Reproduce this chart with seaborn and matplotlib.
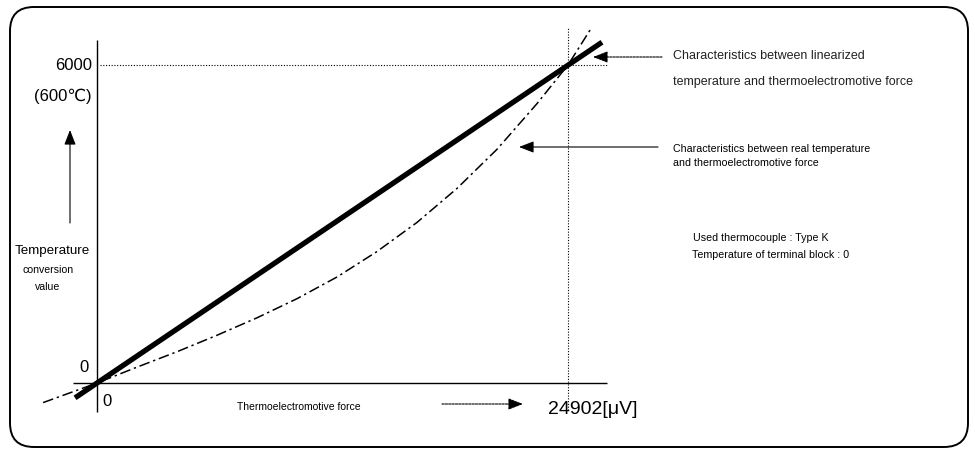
import matplotlib
matplotlib.use("Agg")
import matplotlib.pyplot as plt
from matplotlib import font_manager
from matplotlib.patches import FancyBboxPatch
import seaborn as sns
import pandas as pd

# ---------------- data ----------------
lin_emf = [-1160, 26700]            # linearized characteristic [uV]
lin_temp = [-280, 6430]             # temperature conversion value
real_emf = [-2850, 0, 2120, 4230, 6340, 8460, 10570, 12690, 14800, 16920, 19030,
            21150, 23260, 24902, 26070]
real_temp = [-370, 0, 300, 590, 900, 1230, 1590, 2000, 2480, 3030, 3670,
             4410, 5270, 6000, 6660]
full_emf = 24902
full_temp = 6000

sns.set_style("white")
names = {f.name for f in font_manager.fontManager.ttflist}
main_font = "Liberation Sans Narrow" if "Liberation Sans Narrow" in names else "Liberation Sans"
plt.rcParams["font.family"] = [main_font, "DejaVu Sans"]

W, H = 975, 451
fig = plt.figure(figsize=(W / 100, H / 100), dpi=100)

# main data axes spanning the whole figure
ax = fig.add_axes([0, 0, 1, 1])
upx = full_emf / 471.0      # uV per pixel
upy = full_temp / 318.0     # temp per pixel
x0 = -97 * upx
y0 = -(451 - 383) * upy
ax.set_xlim(x0, x0 + W * upx)
ax.set_ylim(y0, y0 + H * upy)

df_lin = pd.DataFrame({"emf": lin_emf, "temp": lin_temp})
df_real = pd.DataFrame({"emf": real_emf, "temp": real_temp})

# axes lines
ax.plot([-24 * upx, 510 * upx], [0, 0], color="black", lw=1.0, solid_capstyle="butt")
ax.plot([0, 0], [-29 * upy, 343 * upy], color="black", lw=1.0, solid_capstyle="butt")
# dotted guides
ax.plot([3 * upx, 510 * upx], [full_temp, full_temp], color="black", lw=0.8, linestyle=(0, (1, 1.5)))
ax.plot([full_emf, full_emf], [(383 - 410) * upy, (383 - 28) * upy], color="black", lw=0.8,
        linestyle=(0, (1, 1.5)))

sns.lineplot(data=df_real, x="emf", y="temp", ax=ax, color="black", lw=1.1,
             linestyle=(0, (7, 2.5, 1.5, 2.5)), sort=False)
sns.lineplot(data=df_lin, x="emf", y="temp", ax=ax, color="black", lw=3.8,
             solid_capstyle="butt", sort=False)
ax.set_xlim(x0, x0 + W * upx)
ax.set_ylim(y0, y0 + H * upy)
ax.axis("off")


def P(px, py):
    return (px / W, 1 - py / H)


# border
ov = fig.add_axes([0, 0, 1, 1], facecolor="none")
ov.set_xlim(0, W)
ov.set_ylim(H, 0)
ov.axis("off")
ov.add_patch(FancyBboxPatch((10, 7), 958, 440, boxstyle="round,pad=0,rounding_size=24",
                            fill=False, ec="black", lw=1.4))

txt = dict(color="black", va="center")
fig.text(*P(92, 66), "6000", ha="right", fontsize=12, **txt)
fig.text(*P(92, 96), "(600℃)", ha="right", fontsize=12,
         family=[main_font, "DejaVu Sans"], **txt)
fig.text(*P(52, 251), "Temperature", ha="center", fontsize=9.6, **txt)
fig.text(*P(48, 270), "conversion", ha="center", fontsize=7.6, **txt)
fig.text(*P(48, 287), "value", ha="center", fontsize=7.6, **txt)
fig.text(*P(89, 368), "0", ha="right", fontsize=12, **txt)
fig.text(*P(102, 401), "0", ha="left", fontsize=12, **txt)
fig.text(*P(237, 407), "Thermoelectromotive force", ha="left", fontsize=7.5, **txt)
fig.text(*P(548, 409), "24902[μV]", ha="left", fontsize=14, **txt)

fig.text(*P(673, 56), "Characteristics between linearized", ha="left", fontsize=9, color="#222", va="center")
fig.text(*P(673, 82), "temperature and thermoelectromotive force", ha="left", fontsize=9, color="#222",
         va="center")
fig.text(*P(673, 149), "Characteristics between real temperature", ha="left", fontsize=7.7, **txt)
fig.text(*P(673, 163), "and thermoelectromotive force", ha="left", fontsize=7.7, **txt)
fig.text(*P(693, 238), "Used thermocouple : Type K", ha="left", fontsize=7.7, **txt)
fig.text(*P(692, 255), "Temperature of terminal block : 0", ha="left", fontsize=7.7, **txt)

arrow = dict(arrowstyle="-|>,head_length=0.9,head_width=0.35", color="black", lw=0.8,
             shrinkA=0, shrinkB=0)
for (xs, ys), (xe, ye), ls in [((662, 57), (593, 57), (0, (2, 1))),
                              ((658, 147), (519, 147), "-"),
                              ((70, 223), (70, 130), "-"),
                              ((442, 404), (523, 404), (0, (2, 1)))]:
    ov.annotate("", xy=(xe, ye), xytext=(xs, ys),
                arrowprops=dict(arrow, linestyle=ls))

fig.savefig("out.png", dpi=100)
